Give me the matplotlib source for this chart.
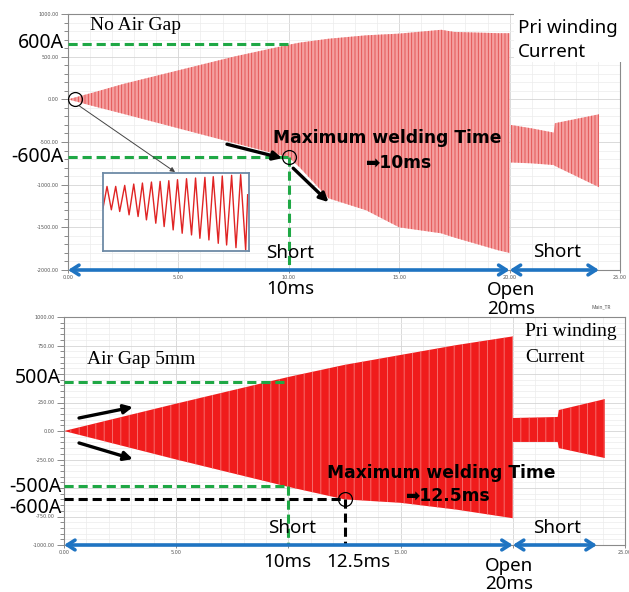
import matplotlib
matplotlib.use('Agg')
import matplotlib.pyplot as plt
from matplotlib.patches import Rectangle
from matplotlib.ticker import MultipleLocator

plt.rcParams['hatch.linewidth'] = 0.6

# ---------------- DATA ----------------
# primary winding current envelope, no air gap (ms, A)
top_t = [0, 1, 2.5, 5, 7.5, 10, 10.5, 11.8, 13.5, 15, 16.9, 17.5, 19.5, 20]
top_upper = [0, 70, 180, 340, 500, 640, 665, 710, 750, 770, 815, 790, 775, 775]
top_lower = [0, -70, -170, -340, -510, -680, -800, -1160, -1300, -1500, -1570, -1620, -1770, -1800]
top_after_t = [20.05, 21, 22, 22.05, 24.05]
top_after_upper = [-300, -340, -390, -280, -175]
top_after_lower = [-740, -750, -770, -780, -1030]

# air gap 5mm
bot_t = [0, 5, 10, 12.5, 15, 17.5, 20]
bot_upper = [0, 240, 474, 580, 667, 754, 830]
bot_lower = [0, -250, -490, -600, -630, -690, -765]
bot_after_t = [20.0, 22.0, 22.05, 24.1]
bot_after_upper = [114, 123, 184, 280]
bot_after_lower = [-96, -96, -150, -237]

# zoomed start of the no-gap waveform (inset, arbitrary units)
inset_t = [25, 37, 50, 63, 75, 90, 103, 117, 130, 143, 155, 170, 183, 196, 208, 222, 235,
           248, 262, 275, 290, 302, 315, 330, 342, 355, 370, 382, 395, 410, 423, 437, 452, 458]
inset_v = [-130, -65, -135, -65, -140, -62, -150, -58, -155, -55, -165, -52, -175, -50, -185,
           -48, -195, -45, -205, -42, -210, -40, -220, -38, -225, -36, -235, -34, -240, -32,
           -248, -30, -255, -90]

# annotation values
short_t = 10
open_t = 20
end_top = 24.05
end_bot = 23.75
weld_t_bot = 12.5
top_levels = [650, -680]      # drawn "600A" / "-600A"
bot_levels = [430, -482]      # drawn "500A" / "-500A"
bot_600 = -596

top_yticks = [1000, 500, 0, -500, -1000, -1500, -2000]
bot_yticks = [1000, 750, 500, 250, 0, -250, -500, -750, -1000]
bot_ylabels = ['1000.00', '750.00', '', '250.00', '0.00', '-250.00', '', '-750.00', '-1000.00']
xticks = [0, 5, 10, 15, 20, 25]
top_xlabels = ['0.00', '5.00', '10.00', '15.00', '20.00', '25.00']
bot_xlabels = ['0.00', '5.00', '', '15.00', '', '25.00']

# ---------------- STYLE ----------------
W, H = 629, 592
GREEN = '#1fa845'
BLUE = '#1f74c2'
SANS = ['Noto Sans', 'DejaVu Sans']
SERIF = 'Liberation Serif'
BOLD = dict(family='DejaVu Sans', weight='bold', size=12.3)


def fx(x):
    return x / W


def fy(y):
    return 1 - y / H


def ftext(x, y, s, **kw):
    kw.setdefault('va', 'center')
    kw.setdefault('family', SANS)
    fig.text(fx(x), fy(y), s, **kw)


def style_axes(ax, yminor, xlabels):
    ax.set_xlim(0, 25)
    ax.xaxis.set_minor_locator(MultipleLocator(1))
    ax.yaxis.set_minor_locator(MultipleLocator(yminor))
    ax.grid(which='major', color='#d4d4d4', lw=0.6)
    ax.grid(which='minor', color='#ececec', lw=0.5)
    ax.set_axisbelow(True)
    ax.tick_params(which='both', direction='out', colors='#777', labelsize=3.5,
                   labelcolor='#555', width=0.6, pad=1.5)
    ax.tick_params(which='major', length=5)
    ax.tick_params(which='minor', length=3)
    ax.tick_params(axis='x', which='minor', length=0)
    ax.tick_params(axis='x', which='major', length=2)
    ax.set_xticks(xticks)
    ax.set_xticklabels(xlabels)
    for sp in ax.spines.values():
        sp.set_color('#8a8a8a')
        sp.set_linewidth(0.8)


fig = plt.figure(figsize=(6.29, 5.92), dpi=100)

# ---------------- TOP PANEL ----------------
ax1 = fig.add_axes([fx(68), fy(270), (620 - 68) / W, (270 - 14) / H])
style_axes(ax1, 100, top_xlabels)
ax1.set_ylim(-2000, 1000)
ax1.set_yticks(top_yticks)
ax1.set_yticklabels([f'{v:.2f}' for v in top_yticks])

ax1.fill_between(top_t, top_lower, top_upper, facecolor='#f5a0a0', edgecolor='#e04c4c',
                 hatch='|||||', linewidth=0, zorder=2)
ax1.fill_between(top_after_t, top_after_lower, top_after_upper, facecolor='#f5a0a0',
                 edgecolor='#e04c4c', hatch='|||||', linewidth=0, zorder=2)

# white box behind the "Pri winding Current" label
ax1.add_patch(Rectangle((20.2, 437), 6, 800, facecolor='white', edgecolor='none',
                        clip_on=False, zorder=3))

ls = (0, (3, 1.6))
for lv in top_levels:
    ax1.plot([0, short_t], [lv, lv], color=GREEN, lw=2.2, ls=ls, zorder=4)
ax1.plot([short_t, short_t], [top_levels[1], -2000], color=GREEN, lw=2.2, ls=ls,
         zorder=4, clip_on=False)

ax1.plot([0.3], [0], 'o', ms=10, mfc='none', mec='black', mew=0.9, zorder=5)
ax1.plot([short_t], [top_levels[1]], 'o', ms=10, mfc='none', mec='black', mew=0.9, zorder=5)

arrow_k = dict(arrowstyle='-|>', color='black', lw=2.4, mutation_scale=13,
               shrinkA=0, shrinkB=0)
ax1.annotate('', xy=(9.7, -690), xytext=(7.2, -526), arrowprops=arrow_k, zorder=6)
ax1.annotate('', xy=(11.8, -1205), xytext=(10.2, -807), arrowprops=arrow_k, zorder=6)
ax1.annotate('', xy=(4.85, -852), xytext=(0.5, -75),
             arrowprops=dict(arrowstyle='-|>', color='#444', lw=0.7, mutation_scale=7,
                             shrinkA=0, shrinkB=0), zorder=6)

blue_k = dict(arrowstyle='<->, head_length=0.55, head_width=0.35', color=BLUE, lw=2.6,
              shrinkA=0, shrinkB=0)
ax1.annotate('', xy=(open_t, -2000), xytext=(0, -2000), arrowprops=blue_k,
             annotation_clip=False, zorder=6)
ax1.annotate('', xy=(end_top, -2000), xytext=(open_t, -2000), arrowprops=blue_k,
             annotation_clip=False, zorder=6)

# inset
axi = fig.add_axes([fx(103), fy(251), (249 - 103) / W, (251 - 173) / H])
axi.plot(inset_t, inset_v, color='#e02424', lw=1.0)
axi.set_xlim(25, 462)
axi.set_ylim(-258, -25)
axi.set_xticks([])
axi.set_yticks([])
for sp in axi.spines.values():
    sp.set_color('#6d8aa6')
    sp.set_linewidth(1.3)

ftext(90, 26, 'No Air Gap', family=SERIF, size=14)
ftext(64, 43, '600A', ha='right', size=14)
ftext(63, 157, '-600A', ha='right', size=14)
ftext(273, 138, 'Maximum welding Time', **BOLD)
ftext(365, 163, '\u27a110ms', **BOLD)
ftext(518, 28, 'Pri winding', size=13.5)
ftext(518, 52, 'Current', size=13.5)
ftext(266, 253, 'Short', size=13.5)
ftext(533, 252, 'Short', size=13.5)
ftext(266, 289, '10ms', size=13.5)
ftext(487, 290, 'Open', size=13.5)
ftext(487, 309, '20ms', size=13.5)

# ---------------- BOTTOM PANEL ----------------
ax2 = fig.add_axes([fx(64), fy(545), (625 - 64) / W, (545 - 317) / H])
style_axes(ax2, 50, bot_xlabels)
ax2.set_ylim(-1000, 1000)
ax2.set_yticks(bot_yticks)
ax2.set_yticklabels(bot_ylabels)

ax2.fill_between(bot_t, bot_lower, bot_upper, facecolor='#f01c1c', edgecolor='#f77a7a',
                 hatch='||', linewidth=0, zorder=2)
ax2.fill_between(bot_after_t, bot_after_lower, bot_after_upper, facecolor='#f01c1c',
                 edgecolor='#f77a7a', hatch='||', linewidth=0, zorder=2)

for lv in bot_levels:
    ax2.plot([0, short_t], [lv, lv], color=GREEN, lw=2.2, ls=ls, zorder=4)
ax2.plot([short_t, short_t], [bot_levels[1], -1000], color=GREEN, lw=2.2, ls=ls, zorder=4)
ax2.plot([0, weld_t_bot], [bot_600, bot_600], color='black', lw=2.2, ls=ls, zorder=4)
ax2.plot([weld_t_bot, weld_t_bot], [bot_600, -1000], color='black', lw=2.2, ls=ls, zorder=4)
ax2.plot([weld_t_bot], [bot_600], 'o', ms=10, mfc='none', mec='black', mew=0.9, zorder=5)

ax2.annotate('', xy=(3.07, 210), xytext=(0.67, 114), arrowprops=arrow_k, zorder=6)
ax2.annotate('', xy=(3.07, -246), xytext=(0.67, -105), arrowprops=arrow_k, zorder=6)
ax2.annotate('', xy=(open_t, -1000), xytext=(0, -1000), arrowprops=blue_k,
             annotation_clip=False, zorder=6)
ax2.annotate('', xy=(end_bot, -1000), xytext=(open_t, -1000), arrowprops=blue_k,
             annotation_clip=False, zorder=6)

ftext(87, 360, 'Air Gap 5mm', family=SERIF, size=14)
ftext(61, 378, '500A', ha='right', size=14)
ftext(62, 487, '-500A', ha='right', size=14)
ftext(62, 508, '-600A', ha='right', size=14)
ftext(327, 473, 'Maximum welding Time', **BOLD)
ftext(405, 496, '\u27a112.5ms', **BOLD)
ftext(525, 332, 'Pri winding', family=SERIF, size=14)
ftext(525, 358, 'Current', family=SERIF, size=14)
ftext(592, 307, 'Main_TR', size=3.5, color='#555')
ftext(268, 528, 'Short', size=13.5)
ftext(533, 528, 'Short', size=13.5)
ftext(263, 562, '10ms', size=13.5)
ftext(326, 562, '12.5ms', size=13.5)
ftext(485, 566, 'Open', size=13.5)
ftext(485, 584, '20ms', size=13.5)

fig.savefig('out.png', dpi=100)
